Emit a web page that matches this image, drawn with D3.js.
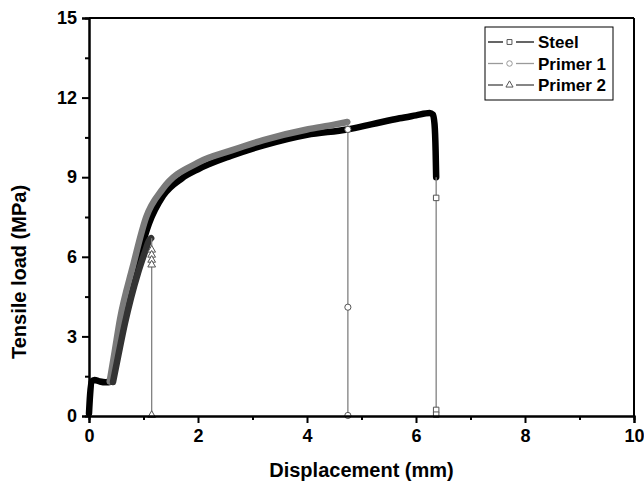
<!DOCTYPE html>
<html>
<head>
<meta charset="utf-8">
<script src="https://cdn.jsdelivr.net/npm/d3@7"></script>
<style>
  body { margin: 0; background: #fff; }
  text { font-family: "Liberation Sans", Arial, sans-serif; font-weight: bold; }
</style>
</head>
<body>
<div id="chart"></div>
<script>

// values (displacement in mm, load in MPa)
const steelX = [0, 0.02, 0.05, 0.1, 0.2, 0.3, 0.41, 0.5, 0.6, 0.7, 0.85, 1.1, 1.36, 1.7, 2.0, 2.6, 3.2, 4.0, 4.74, 5.2, 5.7, 6.0, 6.25, 6.31, 6.34, 6.36, 6.37];
const steelY = [0.1, 0.8, 1.3, 1.36, 1.3, 1.27, 1.3, 2.3, 3.45, 4.35, 5.5, 7.25, 8.3, 8.95, 9.3, 9.8, 10.2, 10.6, 10.8, 11.0, 11.22, 11.33, 11.42, 11.36, 11.0, 10.0, 9.0];
const steelTailX = [6.37, 6.37, 6.37, 6.37];
const steelTailY = [9.0, 8.22, 0.23, 0.05];

const primer1X = [0.38, 0.47, 0.57, 0.8, 1.05, 1.35, 2.0, 2.6, 3.2, 4.0, 4.5, 4.74];
const primer1Y = [1.3, 2.4, 3.65, 5.6, 7.5, 8.55, 9.55, 10.0, 10.4, 10.8, 10.98, 11.08];
const primer1TailX = [4.75, 4.75, 4.75, 4.75];
const primer1TailY = [11.08, 10.8, 4.1, 0.02];

const primer2X = [0.44, 0.53, 0.66, 0.9, 1.03, 1.1, 1.14];
const primer2Y = [1.28, 2.2, 3.5, 5.4, 6.2, 6.6, 6.7];
const primer2TailX = [1.15, 1.15, 1.15, 1.15, 1.15, 1.15];
const primer2TailY = [6.7, 6.26, 6.07, 5.88, 5.7, 0.03];

const xTicks = [0, 2, 4, 6, 8, 10];
const yTicks = [0, 3, 6, 9, 12, 15];
const legendNames = ['Steel', 'Primer 1', 'Primer 2'];

const zip = (xs, ys) => xs.map((x, i) => ({ x: x, y: ys[i] }));

const series = [
  { name: 'Steel', curve: zip(steelX, steelY), tail: zip(steelTailX, steelTailY),
    color: '#000', legendLine: '#111', marker: 'square' },
  { name: 'Primer 1', curve: zip(primer1X, primer1Y), tail: zip(primer1TailX, primer1TailY),
    color: '#7a7a7a', legendLine: '#9a9a9a', marker: 'circle' },
  { name: 'Primer 2', curve: zip(primer2X, primer2Y), tail: zip(primer2TailX, primer2TailY),
    color: '#333', legendLine: '#444', marker: 'triangle' }
];

const W = 644, H = 489;
const margin = { top: 18, right: 10, bottom: 73, left: 89 };
const width = W - margin.left - margin.right,
      height = H - margin.top - margin.bottom;

const svg = d3.select('#chart').append('svg')
    .attr('width', W)
    .attr('height', H);

const g = svg.append('g')
    .attr('transform', `translate(${margin.left}, ${margin.top})`);

const xScale = d3.scaleLinear().domain([0, 10]).range([0, width]);
const yScale = d3.scaleLinear().domain([0, 15]).range([height, 0]);

const symbolOf = {
  square: d3.symbolSquare,
  circle: d3.symbolCircle,
  triangle: d3.symbolTriangle
};

// curves
const line = d3.line()
    .x(d => xScale(d.x))
    .y(d => yScale(d.y))
    .curve(d3.curveMonotoneX);

series.forEach(s => {
  g.append('path')
      .datum(s.curve)
      .attr('fill', 'none')
      .attr('stroke', s.color)
      .attr('stroke-width', 6.5)
      .attr('stroke-linejoin', 'round')
      .attr('stroke-linecap', 'round')
      .attr('d', line);
});

// the drop after failure, with hollow markers
series.forEach(s => {
  g.append('path')
      .datum(s.tail)
      .attr('fill', 'none')
      .attr('stroke', '#808080')
      .attr('stroke-width', 1.3)
      .attr('d', d3.line().x(d => xScale(d.x)).y(d => yScale(d.y)));

  g.selectAll(null)
      .data(s.tail.slice(1))
      .enter()
      .append('path')
        .attr('transform', d => `translate(${xScale(d.x)}, ${yScale(d.y)})`)
        .attr('d', d3.symbol().type(symbolOf[s.marker]).size(s.marker === 'triangle' ? 26 : 30))
        .attr('fill', '#fff')
        .attr('stroke', '#555')
        .attr('stroke-width', 1);
});

// axes
const xAxis = g.append('g')
    .attr('transform', `translate(0, ${height})`)
    .call(d3.axisBottom(xScale).tickValues(xTicks).tickSize(7).tickPadding(6).tickFormat(d3.format('d')));

const xMinor = g.append('g')
    .attr('transform', `translate(0, ${height})`)
    .call(d3.axisBottom(xScale).tickValues([1, 3, 5, 7, 9]).tickSize(4).tickFormat(''));

const yAxis = g.append('g')
    .call(d3.axisLeft(yScale).tickValues(yTicks).tickSize(7).tickPadding(5).tickFormat(d3.format('d')));

const yMinor = g.append('g')
    .call(d3.axisLeft(yScale).tickValues([1.5, 4.5, 7.5, 10.5, 13.5]).tickSize(4).tickFormat(''));

[xAxis, xMinor, yAxis, yMinor].forEach(a => {
  a.select('.domain').attr('stroke', '#000').attr('stroke-width', 2);
  a.selectAll('.tick line').attr('stroke', '#000').attr('stroke-width', 2);
  a.selectAll('.tick text').style('font-size', '18px').attr('fill', '#000');
});

// frame top and right
g.append('line')
    .attr('x1', 0).attr('x2', width).attr('y1', 0).attr('y2', 0)
    .attr('stroke', '#000').attr('stroke-width', 2);
g.append('line')
    .attr('x1', width).attr('x2', width).attr('y1', 0).attr('y2', height)
    .attr('stroke', '#000').attr('stroke-width', 2);

// axis titles
svg.append('text')
    .attr('x', margin.left + width / 2)
    .attr('y', 477)
    .attr('text-anchor', 'middle')
    .style('font-size', '20px')
    .text('Displacement (mm)');

svg.append('text')
    .attr('transform', 'translate(26, 272) rotate(-90)')
    .attr('text-anchor', 'middle')
    .style('font-size', '20px')
    .text('Tensile load (MPa)');

// legend
const legend = svg.append('g')
    .attr('transform', 'translate(485, 27)');

legend.append('rect')
    .attr('width', 128)
    .attr('height', 73)
    .attr('fill', '#fff')
    .attr('stroke', '#000')
    .attr('stroke-width', 1);

series.forEach((s, idx) => {
  let row = legend.append('g')
      .attr('transform', `translate(0, ${15 + idx * 21.5})`);

  row.append('line')
      .attr('x1', 3).attr('x2', 18).attr('y1', 0).attr('y2', 0)
      .attr('stroke', s.legendLine).attr('stroke-width', 1.3);
  row.append('line')
      .attr('x1', 31).attr('x2', 49).attr('y1', 0).attr('y2', 0)
      .attr('stroke', s.legendLine).attr('stroke-width', 1.3);

  row.append('path')
      .attr('transform', 'translate(24.5, 0)')
      .attr('d', d3.symbol().type(symbolOf[s.marker]).size(s.marker === 'triangle' ? 22 : 24))
      .attr('fill', '#fff')
      .attr('stroke', s.marker === 'circle' ? '#999' : '#555')
      .attr('stroke-width', 1);

  row.append('text')
      .attr('x', 53)
      .attr('y', 6)
      .style('font-size', '17px')
      .text(legendNames[idx]);
});

</script>
</body>
</html>
